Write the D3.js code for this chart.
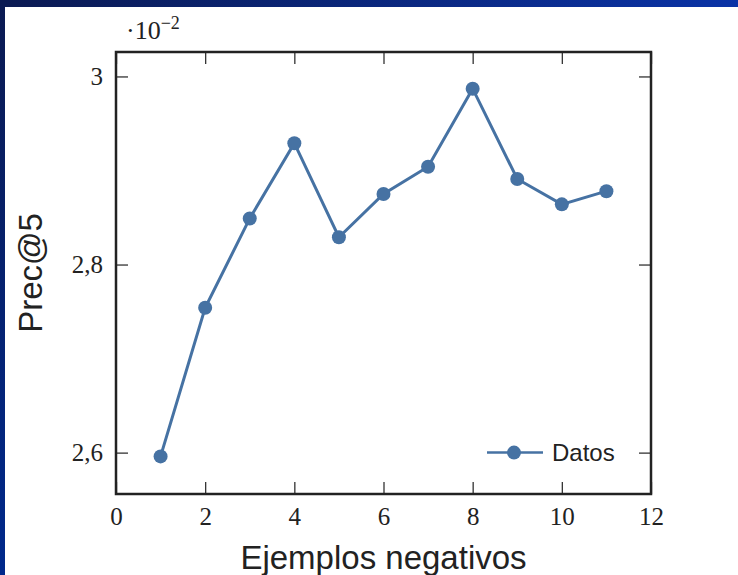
<!DOCTYPE html>
<html>
<head>
<meta charset="utf-8">
<script src="https://cdn.jsdelivr.net/npm/d3@7"></script>
<style>
  body { margin: 0; padding: 0; background: #fff; }
  svg { display: block; }
</style>
</head>
<body>
<svg width="738" height="575"></svg>
<script>
// data (values in units of 10^-2)
let ejemplos = [1, 2, 3, 4, 5, 6, 7, 8, 9, 10, 11];
let prec5 = [2.596, 2.754, 2.849, 2.929, 2.829, 2.875, 2.904, 2.987, 2.891, 2.864, 2.878];
let xTicks = [0, 2, 4, 6, 8, 10, 12];
let yTicks = [2.6, 2.8, 3.0];
let yTickLabels = ["2,6", "2,8", "3"];

let svg = d3.select("svg");
let width = 738, height = 575;

// slide background: blue frame on top and left
let defs = svg.append("defs");
let gTop = defs.append("linearGradient").attr("id", "gTop")
  .attr("x1", "0%").attr("x2", "100%").attr("y1", "0%").attr("y2", "0%");
gTop.append("stop").attr("offset", "0%").attr("stop-color", "#0b1a52");
gTop.append("stop").attr("offset", "100%").attr("stop-color", "#0a33a6");
let gLeft = defs.append("linearGradient").attr("id", "gLeft")
  .attr("x1", "0%").attr("x2", "0%").attr("y1", "0%").attr("y2", "100%");
gLeft.append("stop").attr("offset", "0%").attr("stop-color", "#0b1a52");
gLeft.append("stop").attr("offset", "100%").attr("stop-color", "#00298c");

svg.append("rect").attr("width", width).attr("height", height).attr("fill", "#fff");
svg.append("rect").attr("width", width).attr("height", 7).attr("fill", "url(#gTop)");
svg.append("rect").attr("y", 0).attr("width", 5).attr("height", height).attr("fill", "url(#gLeft)");

let margin = { top: 52, right: 87, bottom: 81, left: 116 };
let plotWidth = width - margin.left - margin.right;
let plotHeight = height - margin.top - margin.bottom;

let x = d3.scaleLinear().domain([0, 12]).range([0, plotWidth]);
let y = d3.scaleLinear().domain([2.556, 3.026]).range([plotHeight, 0]);

let plot = svg.append("g").attr("id", "plot")
  .attr("transform", "translate(" + margin.left + "," + margin.top + ")");

let serif = "'Liberation Serif', 'DejaVu Serif', serif";
let sans = "'Liberation Sans', Arial, sans-serif";

// axes, ticks pointing inward on all four sides
let xAxis = d3.axisBottom(x).tickValues(xTicks).tickSizeInner(-12).tickSizeOuter(0).tickPadding(13);
let xTop = d3.axisTop(x).tickValues(xTicks).tickSizeInner(-12).tickSizeOuter(0).tickFormat("");
let yAxis = d3.axisLeft(y).tickValues(yTicks).tickSizeInner(-12).tickSizeOuter(0).tickPadding(13)
  .tickFormat((d, i) => yTickLabels[i]);
let yRight = d3.axisRight(y).tickValues(yTicks).tickSizeInner(-12).tickSizeOuter(0).tickFormat("");

plot.append("g").attr("transform", "translate(0," + plotHeight + ")").call(xAxis);
plot.append("g").call(xTop);
plot.append("g").call(yAxis);
plot.append("g").attr("transform", "translate(" + plotWidth + ",0)").call(yRight);

plot.selectAll(".domain").remove();
plot.selectAll(".tick line").attr("stroke", "#333").attr("stroke-width", 1.3);
plot.selectAll(".tick text").attr("font-family", serif).attr("font-size", 25).attr("fill", "#222");

// frame
plot.append("rect").attr("width", plotWidth).attr("height", plotHeight)
  .attr("fill", "none").attr("stroke", "#222").attr("stroke-width", 2.5);

let color = "#4672a3";
let line = d3.line().x((d, i) => x(ejemplos[i])).y(d => y(d));
plot.append("path").datum(prec5)
  .attr("d", line).attr("fill", "none").attr("stroke", color).attr("stroke-width", 3);
plot.selectAll("circle.pt").data(prec5).enter().append("circle")
  .attr("class", "pt")
  .attr("cx", (d, i) => x(ejemplos[i])).attr("cy", d => y(d))
  .attr("r", 7).attr("fill", color);

// legend
let legend = plot.append("g").attr("transform", "translate(" + (plotWidth - 164) + "," + y(2.6) + ")");
legend.append("line").attr("x1", 0).attr("x2", 56).attr("stroke", color).attr("stroke-width", 2.5);
legend.append("circle").attr("cx", 27).attr("r", 7).attr("fill", color);
legend.append("text").attr("x", 65).attr("dy", "0.35em")
  .attr("font-family", sans).attr("font-size", 24).attr("fill", "#222").text("Datos");

// axis titles
plot.append("text")
  .attr("transform", "translate(" + (plotWidth / 2) + "," + (plotHeight + 75) + ")")
  .style("text-anchor", "middle")
  .attr("font-family", sans).attr("font-size", 33).attr("fill", "#222")
  .text("Ejemplos negativos");
svg.append("text")
  .attr("transform", "translate(42," + (margin.top + plotHeight / 2) + ") rotate(-90)")
  .style("text-anchor", "middle")
  .attr("font-family", sans).attr("font-size", 33).attr("fill", "#222")
  .text("Prec@5");

// exponent label
let expo = svg.append("text").attr("x", 126).attr("y", 39)
  .attr("font-family", serif).attr("font-size", 26).attr("fill", "#222");
expo.append("tspan").text("·10");
expo.append("tspan").attr("dy", -10).attr("font-size", 18).text("−2");
</script>
</body>
</html>
